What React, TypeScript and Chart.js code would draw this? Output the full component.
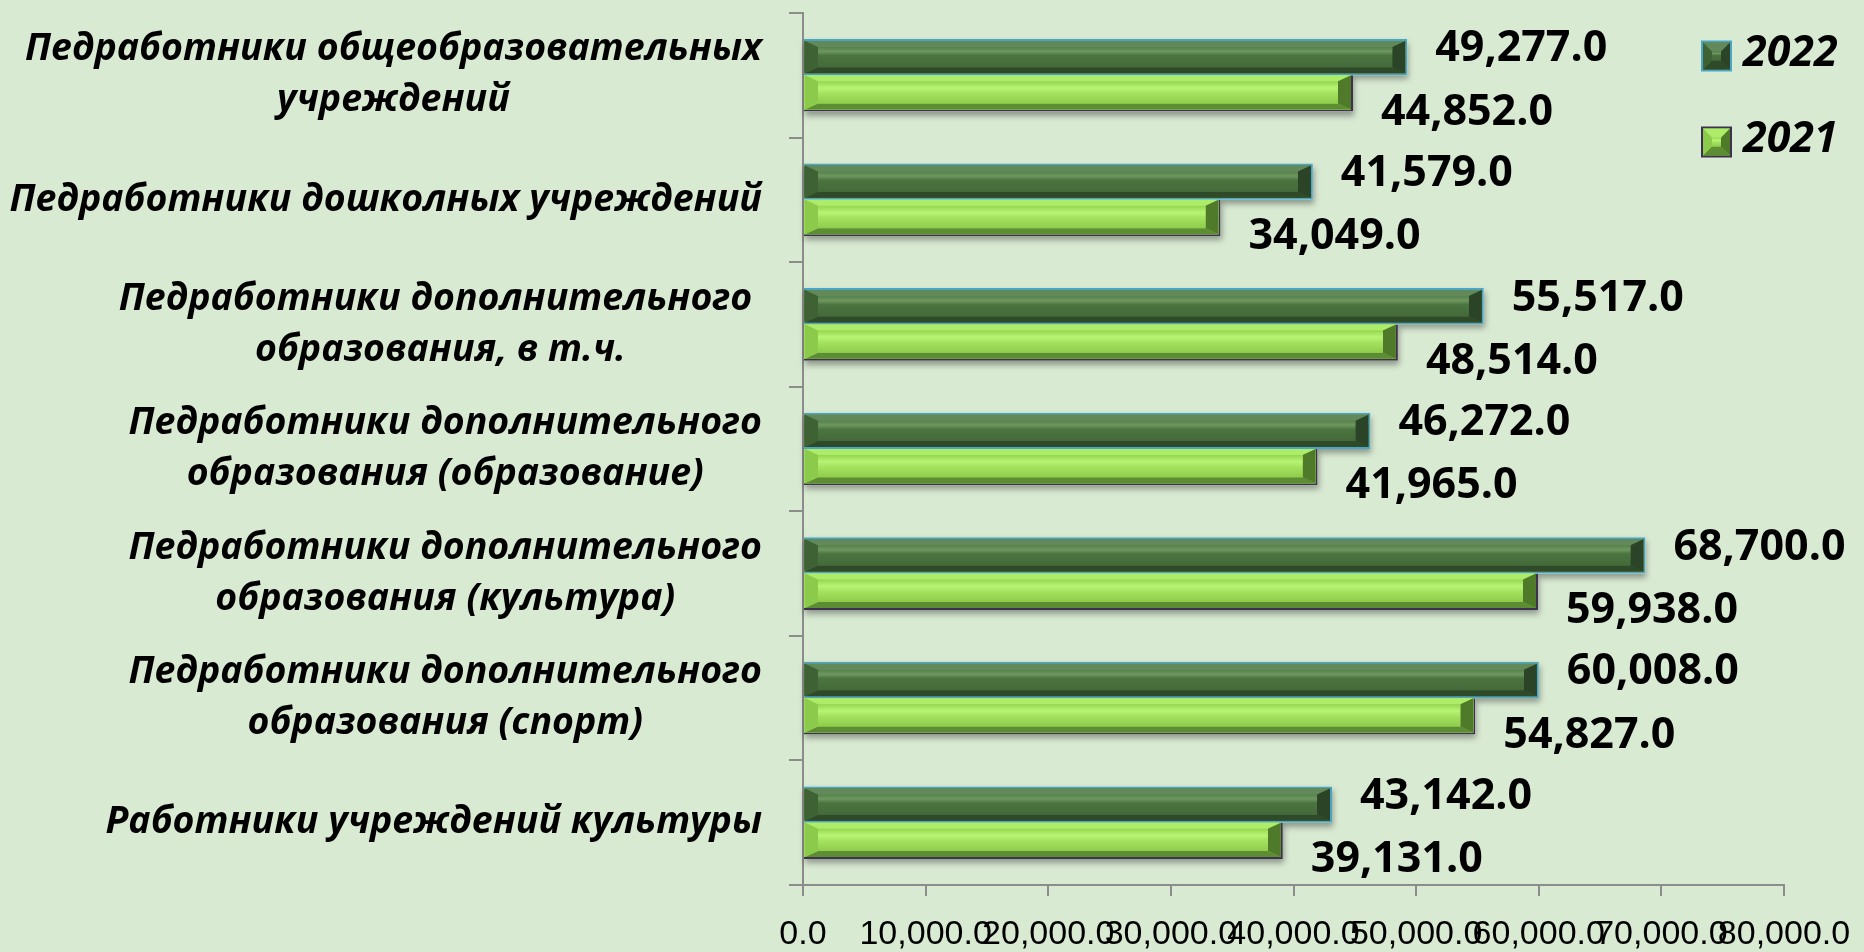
import { useEffect, useRef } from 'react';
import { Chart, registerables } from 'chart.js';

Chart.register(...registerables);

// ---- data ----
const categories: string[][] = [
  ['Педработники общеобразовательных', 'учреждений'],
  ['Педработники дошколных учреждений'],
  ['Педработники дополнительного ', 'образования, в т.ч.'],
  ['Педработники дополнительного', 'образования (образование)'],
  ['Педработники дополнительного', 'образования (культура)'],
  ['Педработники дополнительного', 'образования (спорт)'],
  ['Работники учреждений культуры'],
];
const seriesNames = ['2022', '2021'];
const values2022 = [49277, 41579, 55517, 46272, 68700, 60008, 43142];
const values2021 = [44852, 34049, 48514, 41965, 59938, 54827, 39131];
const xMin = 0;
const xMax = 80000;
const xStep = 10000;

// ---- style ----
const BG = '#d9ead3';
const AXIS = '#8c8c8c';
const LABEL_FONT = "'Open Sans', 'Noto Sans', sans-serif";

type Pal = {
  base: string;
  border: string;
  stops: [number, string][];
  top: string;
  bottom: string;
  left: string;
  right: string;
};

const palettes: Pal[] = [
  {
    base: '#476f3b',
    border: '#4aa6c6',
    stops: [
      [0, '#55804a'],
      [0.22, '#6e9760'],
      [0.42, '#4b7440'],
      [1, '#446a39'],
    ],
    top: '#62895a',
    bottom: '#2f4a29',
    left: '#3f6234',
    right: '#2b4326',
  },
  {
    base: '#9ddc58',
    border: '#3e3150',
    stops: [
      [0, '#94d650'],
      [0.3, '#b8f474'],
      [0.55, '#a3e15e'],
      [1, '#90cc4c'],
    ],
    top: '#acec69',
    bottom: '#5d8d33',
    left: '#8bca4a',
    right: '#4f7a2a',
  },
];

function fmt(v: number) {
  return v.toLocaleString('en-US', { minimumFractionDigits: 1, maximumFractionDigits: 1 });
}

function poly(ctx: CanvasRenderingContext2D, pts: number[][], color: string) {
  ctx.beginPath();
  ctx.moveTo(pts[0][0], pts[0][1]);
  for (let i = 1; i < pts.length; i++) ctx.lineTo(pts[i][0], pts[i][1]);
  ctx.closePath();
  ctx.fillStyle = color;
  ctx.fill();
}

function bevelRect(
  ctx: CanvasRenderingContext2D,
  L: number, T: number, R: number, B: number,
  pal: Pal, bw: number, bh: number
) {
  if (R - L < 2 * bw) bw = (R - L) / 2;
  const g = ctx.createLinearGradient(0, T, 0, B);
  pal.stops.forEach(([o, c]) => g.addColorStop(o, c));
  ctx.fillStyle = g;
  ctx.fillRect(L, T, R - L, B - T);
  poly(ctx, [[L, T], [R, T], [R - bw, T + bh], [L + bw, T + bh]], pal.top);
  poly(ctx, [[L, B], [R, B], [R - bw, B - bh], [L + bw, B - bh]], pal.bottom);
  poly(ctx, [[L, T], [L + bw, T + bh], [L + bw, B - bh], [L, B]], pal.left);
  poly(ctx, [[R, T], [R - bw, T + bh], [R - bw, B - bh], [R, B]], pal.right);
  const g2 = ctx.createLinearGradient(0, T + bh, 0, B - bh);
  pal.stops.forEach(([o, c]) => g2.addColorStop(o, c));
  ctx.fillStyle = g2;
  ctx.fillRect(L + bw, T + bh, R - L - 2 * bw, B - T - 2 * bh);
}

const decorPlugin = {
  id: 'decor',
  beforeDraw(chart: any) {
    const ctx = chart.ctx as CanvasRenderingContext2D;
    ctx.save();
    ctx.fillStyle = BG;
    ctx.fillRect(0, 0, chart.width, chart.height);
    ctx.restore();
  },
  beforeDatasetsDraw(chart: any) {
    const ctx = chart.ctx as CanvasRenderingContext2D;
    ctx.save();
    chart.data.datasets.forEach((_ds: any, di: number) => {
      const meta = chart.getDatasetMeta(di);
      meta.data.forEach((el: any) => {
        const p = el.getProps(['x', 'y', 'base', 'height'], true);
        ctx.shadowColor = 'rgba(0,0,0,0.35)';
        ctx.shadowBlur = 6;
        ctx.shadowOffsetY = 4;
        ctx.shadowOffsetX = 1;
        ctx.fillStyle = BG;
        ctx.fillRect(p.base, p.y - p.height / 2, p.x - p.base, p.height);
      });
    });
    ctx.restore();
  },
  afterDatasetsDraw(chart: any) {
    const ctx = chart.ctx as CanvasRenderingContext2D;
    ctx.save();
    chart.data.datasets.forEach((ds: any, di: number) => {
      const meta = chart.getDatasetMeta(di);
      const pal = palettes[di];
      const bwd = ds.borderWidth;
      meta.data.forEach((el: any) => {
        const p = el.getProps(['x', 'y', 'base', 'height'], true);
        const T = p.y - p.height / 2 + (bwd.top || 0);
        const B = p.y + p.height / 2 - (bwd.bottom || 0);
        const L = p.base + 1;
        const R = p.x - (bwd.right || 0);
        bevelRect(ctx, L, T, R, B, pal, 13, 6);
      });
    });
    ctx.fillStyle = '#000';
    ctx.font = `bold 43px ${LABEL_FONT}`;
    ctx.textAlign = 'left';
    ctx.textBaseline = 'middle';
    const dy = [-8, 19];
    chart.data.datasets.forEach((ds: any, di: number) => {
      const meta = chart.getDatasetMeta(di);
      meta.data.forEach((el: any, i: number) => {
        const p = el.getProps(['x', 'y'], true);
        ctx.fillText(fmt(ds.data[i]), p.x + 28, p.y + dy[di]);
      });
    });
    ctx.restore();
  },
  afterDraw(chart: any) {
    const ctx = chart.ctx as CanvasRenderingContext2D;
    const yScale = chart.scales.y;
    ctx.save();
    ctx.font = `italic bold 37.5px ${LABEL_FONT}`;
    ctx.fillStyle = '#000';
    ctx.textAlign = 'center';
    ctx.textBaseline = 'middle';
    const right = chart.chartArea.left - 41;
    const lh = 51;
    (chart.data.labels as string[][]).forEach((lines, i) => {
      const cy = yScale.getPixelForValue(i);
      const w = Math.max(...lines.map((l) => ctx.measureText(l).width));
      const cx = right - w / 2;
      lines.forEach((l, k) => {
        ctx.fillText(l, cx, cy + (k - (lines.length - 1) / 2) * lh);
      });
    });
    const lx = 1701;
    const ys = [56, 142];
    const size = 31;
    chart.data.datasets.forEach((ds: any, di: number) => {
      const pal = palettes[di];
      const t = ys[di] - size / 2;
      ctx.fillStyle = pal.border;
      ctx.fillRect(lx, t, size, size);
      bevelRect(ctx, lx + 2, t + 2, lx + size - 2, t + size - 2, pal, 9, 9);
      ctx.fillStyle = '#000';
      ctx.font = `italic bold 43px ${LABEL_FONT}`;
      ctx.textAlign = 'left';
      ctx.fillText(ds.label, lx + 42, ys[di] - 2);
    });
    ctx.restore();
  },
};

export default function App() {
  const ref = useRef<HTMLCanvasElement | null>(null);

  useEffect(() => {
    document.body.style.margin = '0';
    document.body.style.background = BG;
    const canvas = ref.current;
    if (!canvas) return;
    const chart = new Chart(canvas, {
      type: 'bar',
      data: {
        labels: categories as any,
        datasets: [
          {
            label: seriesNames[0],
            data: values2022,
            backgroundColor: palettes[0].base,
            borderColor: palettes[0].border,
            borderWidth: { top: 2, bottom: 2, right: 2, left: 0 } as any,
            borderSkipped: false,
          },
          {
            label: seriesNames[1],
            data: values2021,
            backgroundColor: palettes[1].base,
            borderColor: palettes[1].border,
            borderWidth: { top: 0, bottom: 2, right: 2, left: 0 } as any,
            borderSkipped: false,
          },
        ],
      },
      options: {
        indexAxis: 'y',
        animation: false,
        responsive: true,
        maintainAspectRatio: false,
        layout: { padding: { top: 13, right: 80, bottom: 0, left: 0 } },
        plugins: {
          legend: { display: false },
          tooltip: { enabled: false },
        },
        datasets: {
          bar: { categoryPercentage: 0.583, barPercentage: 1.0 },
        },
        scales: {
          y: {
            type: 'category',
            offset: true,
            ticks: { display: false },
            grid: {
              offset: true,
              drawOnChartArea: false,
              drawTicks: true,
              tickLength: 14,
              color: AXIS,
              lineWidth: 2,
            },
            border: { display: true, color: AXIS, width: 2 },
            afterFit: (s: any) => {
              s.width = 803;
              s.paddingTop = 0;
              s.paddingBottom = 0;
            },
          },
          x: {
            type: 'linear',
            min: xMin,
            max: xMax,
            ticks: {
              stepSize: xStep,
              autoSkip: false,
              maxRotation: 0,
              minRotation: 0,
              color: '#000',
              padding: 18,
              font: { family: "'Liberation Sans', Arial, sans-serif", size: 34 },
              callback: (v: any) => fmt(Number(v)),
            },
            grid: {
              drawOnChartArea: false,
              drawTicks: true,
              tickLength: 11,
              color: AXIS,
              lineWidth: 2,
            },
            border: { display: true, color: AXIS, width: 2 },
            afterFit: (s: any) => {
              s.height = 67;
              s.paddingLeft = 0;
              s.paddingRight = 0;
            },
          },
        },
      },
      plugins: [decorPlugin],
    });
    return () => chart.destroy();
  }, []);

  return (
    <div style={{ width: 1864, height: 952, position: 'relative', background: BG }}>
      <canvas ref={ref} />
    </div>
  );
}
